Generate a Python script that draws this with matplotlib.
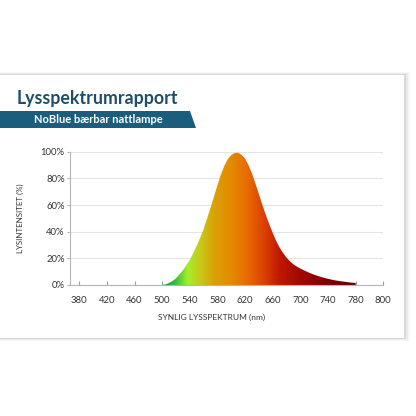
import numpy as np
import matplotlib
matplotlib.use("Agg")
import matplotlib.pyplot as plt
from matplotlib.colors import LinearSegmentedColormap
from matplotlib.patches import Rectangle, Polygon, PathPatch

plt.rcParams['font.family'] = ['Lato', 'DejaVu Sans']

# ---- data ----
wavelength = [500, 505, 510, 515, 520, 525, 530, 535, 540, 545, 550, 555, 560, 565,
              570, 575, 580, 585, 590, 595, 600, 605, 610, 615, 620, 625, 630, 635,
              640, 645, 650, 655, 660, 665, 670, 675, 680, 685, 690, 695, 700,
              710, 720, 730, 740, 750, 760, 770, 780]
intensity = [0, 0.5, 1.5, 3, 5, 8, 11, 15, 19, 24, 29.5, 35.5, 42, 50,
             58, 66.5, 75, 83, 89.5, 94.5, 97.5, 99, 99.2, 97.6, 94.8, 89.8, 83.5, 76,
             68, 60, 52.5, 45.5, 39, 33, 28, 24, 20.5, 17.7, 15.5, 13.8, 12.3,
             9.8, 7.7, 6, 4.6, 3.5, 2.7, 2.0, 1.5]
tick_pos = [380, 420, 460, 500, 540, 580, 620, 660, 700, 740, 780, 820]
tick_labels = ["380", "420", "460", "500", "540", "580", "620", "660", "700", "740", "780", "800"]
y_ticks = [0, 20, 40, 60, 80, 100]
y_labels = ["0%", "20%", "40%", "60%", "80%", "100%"]
title = "Lysspektrumrapport"
subtitle = "NoBlue bærbar nattlampe"
xlabel = "SYNLIG LYSSPEKTRUM (nm)"
ylabel = "LYSINTENSITET (%)"

# spectrum colour stops (wavelength, colour)
color_stops = [(500, "#14902c"), (520, "#3cc23a"), (537, "#a6ee2a"), (555, "#c9c81a"),
               (575, "#d9a205"), (600, "#e48a00"), (625, "#e86800"), (650, "#d83c00"),
               (670, "#c01800"), (700, "#a00800"), (740, "#800000"), (780, "#5c0000")]

W = H = 416
fig = plt.figure(figsize=(W / 100, H / 100), dpi=100)
fig.patch.set_facecolor("white")

# background card with shadow
bg = fig.add_axes([0, 0, 1, 1])
bg.set_xlim(0, W)
bg.set_ylim(H, 0)
bg.axis("off")
for i, a in enumerate([0.03, 0.05, 0.08]):
    off = 3 - i
    bg.add_patch(Rectangle((-10, 75 - off), 414 + 2 * off, 263 + 2 * off,
                           facecolor=(0, 0, 0, a), edgecolor="none"))
bg.add_patch(Rectangle((-10, 75), 414, 263, facecolor="white", edgecolor="none"))
bg.text(17, 104, title, fontsize=12.8, fontweight="bold", color="#1d4e6b",
        ha="left", va="baseline")
bg.add_patch(Polygon([(0, 111), (190, 111), (196, 128), (0, 128)], closed=True,
                     facecolor="#1a5d7d", edgecolor="none"))
bg.text(34, 119.5, subtitle, fontsize=8, fontweight="bold", color="white",
        ha="left", va="center")

# chart
ax = fig.add_axes([70.3 / W, 1 - 285 / H, (383.3 - 70.3) / W, (285 - 151.7) / H])
ax.set_xlim(367, 820)
ax.set_ylim(0, 100)
ax.patch.set_alpha(0)

wl = np.array(wavelength, dtype=float)
it = np.array(intensity, dtype=float)
poly = ax.fill_between(wl, it, 0, facecolor="none", edgecolor="none")

stops_x = np.array([s[0] for s in color_stops], dtype=float)
cmap = LinearSegmentedColormap.from_list(
    "spec", [((x - stops_x[0]) / (stops_x[-1] - stops_x[0]), c) for x, c in color_stops])
grad = np.linspace(0, 1, 512).reshape(1, -1)
im = ax.imshow(grad, cmap=cmap, aspect="auto", extent=[wl[0], wl[-1], 0, 100],
               origin="lower", zorder=2)
clip = PathPatch(poly.get_paths()[0], transform=ax.transData, facecolor="none",
                 edgecolor="none")
ax.add_patch(clip)
im.set_clip_path(clip)

ax.set_yticks(y_ticks)
ax.set_yticklabels(y_labels)
ax.set_xticks(tick_pos)
ax.set_xticklabels(tick_labels)
ax.grid(axis="y", color="#e4e4e4", linewidth=0.8, zorder=0)
ax.set_axisbelow(True)
for s in ["top", "right"]:
    ax.spines[s].set_visible(False)
for s in ["left", "bottom"]:
    ax.spines[s].set_color("#b5b5b5")
    ax.spines[s].set_linewidth(0.8)
ax.tick_params(axis="x", direction="in", length=3, color="#9a9a9a", labelsize=6.8,
               labelcolor="#333333", pad=8)
ax.tick_params(axis="y", direction="out", length=2, color="#b5b5b5", labelsize=6.8,
               labelcolor="#333333", pad=2)
ax.set_xlabel(xlabel, fontsize=6, color="#333333", labelpad=8)
ax.xaxis.set_label_coords(0.451, -0.22)
ax.set_ylabel(ylabel, fontsize=5.7, color="#333333", labelpad=12)

fig.savefig("out.png", dpi=100, facecolor="white")
